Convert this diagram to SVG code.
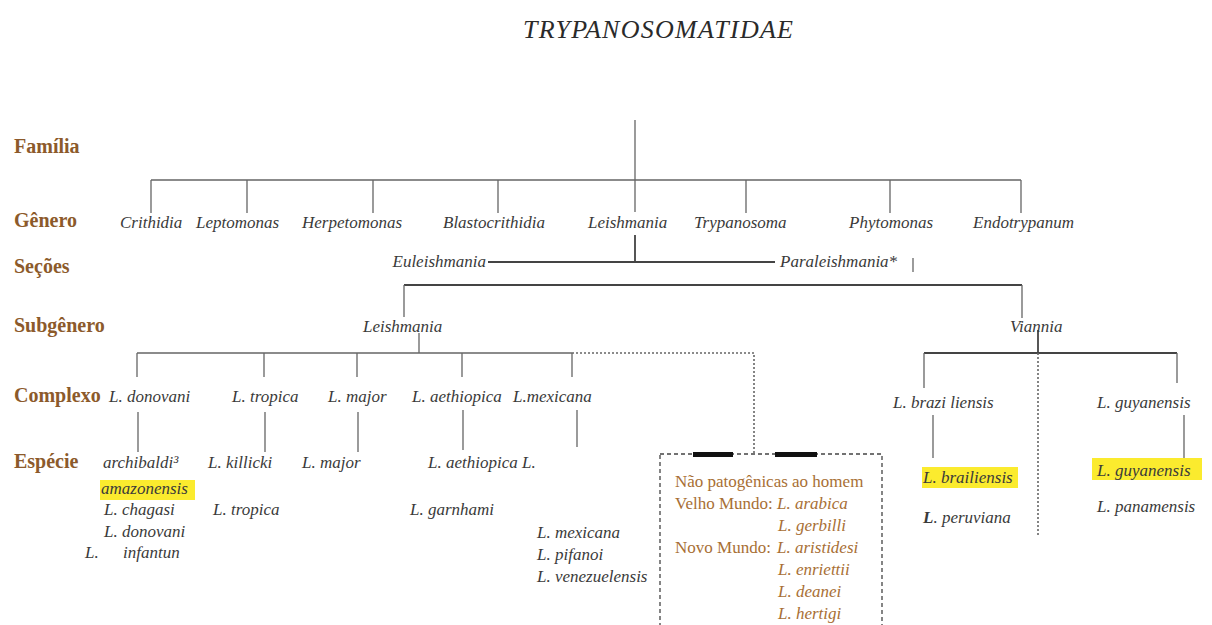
<svg xmlns="http://www.w3.org/2000/svg" width="1212" height="625" viewBox="0 0 1212 625">
<defs>
<style>
.t{font-family:"Liberation Serif","Times New Roman",serif;font-style:italic;font-size:17px;fill:#3a3a3a}
.title{font-family:"Liberation Serif","Times New Roman",serif;font-style:italic;font-size:26px;fill:#2a2a2a}
.lab{font-family:"Liberation Serif","Times New Roman",serif;font-weight:bold;font-size:20px;fill:#8c5a2b}
.bx{font-family:"Liberation Serif","Times New Roman",serif;font-size:17px;fill:#a86f35}
.bxi{font-style:italic}
.ln{stroke:#666;stroke-width:1.3;fill:none}
.lnd{stroke:#444;stroke-width:1.8;fill:none}
.dot{stroke:#666;stroke-width:1.6;stroke-dasharray:2 2;fill:none}
.hl{fill:#fbeb2e}
</style>
</defs>
<rect width="1212" height="625" fill="#fff"/>
<text class="title" x="523" y="38" textLength="270">TRYPANOSOMATIDAE</text>

<g id="labels">
<text class="lab" x="14" y="153">Família</text>
<text class="lab" x="14" y="227">Gênero</text>
<text class="lab" x="14" y="273">Seções</text>
<text class="lab" x="14" y="332">Subgênero</text>
<text class="lab" x="14" y="402">Complexo</text>
<text class="lab" x="14" y="468">Espécie</text>
</g>

<g id="connectors">
<path class="ln" d="M635 120V212M151 180H1021M151 180V213M247 180V213M373 180V213M498 180V213M746 180V213M890 180V213M1021 180V213"/>
<path class="lnd" d="M635 235V262M488 262H775"/>
<path class="ln" d="M913 258V272"/>
<path class="lnd" d="M404 285H1022" stroke="#777"/>
<path class="ln" d="M404 285V317M1022 285V318"/>
<path class="ln" d="M419 333V353M137 353H572M137 353V377M264 353V377M357 353V377M462 353V377M572 353V377"/>
<path class="dot" d="M572 353H754V454"/>
<path class="ln" d="M138 412V452M265 412V452M358 412V452M463 410V450M577 410V447"/>
<path class="lnd" d="M1038 330V353"/>
<path class="lnd" d="M924 353H1177" stroke="#555"/>
<path class="ln" d="M924 353V388M1177 353V383"/>
<path class="dot" d="M1038 353V535"/>
<path class="ln" d="M933 415V458M1184 415V463"/>
</g>

<g id="genero">
<text class="t" x="120" y="228">Crithidia</text>
<text class="t" x="196" y="228">Leptomonas</text>
<text class="t" x="302" y="228">Herpetomonas</text>
<text class="t" x="443" y="228">Blastocrithidia</text>
<text class="t" x="588" y="228">Leishmania</text>
<text class="t" x="694" y="228">Trypanosoma</text>
<text class="t" x="849" y="228">Phytomonas</text>
<text class="t" x="973" y="228">Endotrypanum</text>
</g>

<g id="secoes">
<text class="t" x="486" y="267" text-anchor="end">Euleishmania</text>
<text class="t" x="780" y="267">Paraleishmania*</text>
</g>

<g id="subgenero">
<text class="t" x="363" y="332">Leishmania</text>
<text class="t" x="1010" y="332">Viannia</text>
</g>

<g id="complexo">
<text class="t" x="109" y="402">L. donovani</text>
<text class="t" x="232" y="402">L. tropica</text>
<text class="t" x="328" y="402">L. major</text>
<text class="t" x="412" y="402">L. aethiopica</text>
<text class="t" x="513" y="402">L.mexicana</text>
<text class="t" x="893" y="408">L.  brazi liensis</text>
<text class="t" x="1097" y="408">L. guyanensis</text>
</g>

<g id="especie-donovani">
<text class="t" x="103" y="468">archibaldi³</text>
<rect class="hl" x="100" y="480" width="95" height="20"/>
<text class="t" x="101" y="494">amazonensis</text>
<text class="t" x="104" y="515">L.  chagasi</text>
<text class="t" x="104" y="537">L.  donovani</text>
<text class="t" x="85" y="558">L.</text>
<text class="t" x="123" y="558">infantun</text>
</g>
<g id="especie-tropica">
<text class="t" x="208" y="468">L. killicki</text>
<text class="t" x="213" y="515">L.  tropica</text>
</g>
<g id="especie-major">
<text class="t" x="302" y="468">L. major</text>
</g>
<g id="especie-aethiopica">
<text class="t" x="428" y="468">L. aethiopica L.</text>
<text class="t" x="410" y="515">L. garnhami</text>
</g>
<g id="especie-mexicana">
<text class="t" x="537" y="538">L.  mexicana</text>
<text class="t" x="537" y="560">L.  pifanoi</text>
<text class="t" x="537" y="582">L.  venezuelensis</text>
</g>

<g id="box-nao-patogenicas">
<rect x="660" y="454" width="222" height="190" fill="none" stroke="#444" stroke-width="1.3" stroke-dasharray="4 3"/>
<rect x="693" y="452" width="40" height="5" fill="#111"/>
<rect x="775" y="452" width="42" height="5" fill="#111"/>
<text class="bx" x="675" y="487">Não patogênicas ao homem</text>
<text class="bx" x="675" y="509">Velho Mundo: <tspan class="bxi" x="777">L. arabica</tspan></text>
<text class="bx bxi" x="778" y="531">L. gerbilli</text>
<text class="bx" x="675" y="553">Novo Mundo: <tspan class="bxi" x="777">L.  aristidesi</tspan></text>
<text class="bx bxi" x="778" y="575">L. enriettii</text>
<text class="bx bxi" x="778" y="597">L. deanei</text>
<text class="bx bxi" x="778" y="619">L. hertigi</text>
</g>

<g id="especie-braziliensis">
<rect class="hl" x="922" y="467" width="96" height="21"/>
<text class="t" x="923" y="483">L. brailiensis</text>
<text class="t" x="923" y="523"><tspan font-weight="bold">L</tspan>. peruviana</text>
</g>
<g id="especie-guyanensis">
<rect class="hl" x="1092" y="458" width="110" height="22"/>
<text class="t" x="1097" y="476">L.  guyanensis</text>
<text class="t" x="1097" y="512">L.  panamensis</text>
</g>
</svg>
